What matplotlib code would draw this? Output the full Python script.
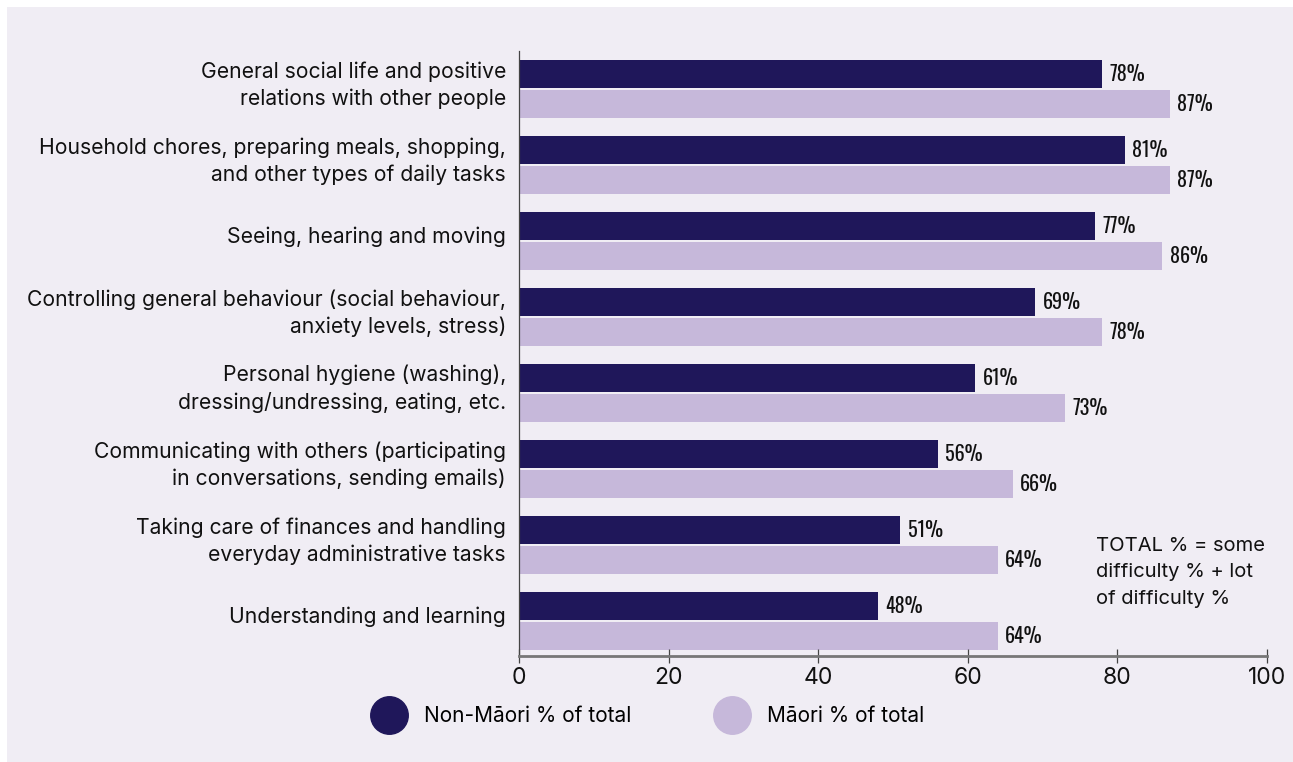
import numpy as np
import matplotlib
matplotlib.use("Agg")
import matplotlib.pyplot as plt
from matplotlib.lines import Line2D
from matplotlib.patches import Rectangle
from matplotlib.transforms import ScaledTranslation, blended_transform_factory

# Datos
categorias = [
    "General social life and positive\nrelations with other people",
    "Household chores, preparing meals, shopping,\nand other types of daily tasks",
    "Seeing, hearing and moving",
    "Controlling general behaviour (social behaviour,\nanxiety levels, stress)",
    "Personal hygiene (washing),\ndressing/undressing, eating, etc.",
    "Communicating with others (participating\nin conversations, sending emails)",
    "Taking care of finances and handling\neveryday administrative tasks",
    "Understanding and learning",
]
no_maori = [78, 81, 77, 69, 61, 56, 51, 48]
maori = [87, 87, 86, 78, 73, 66, 64, 64]
ticks_x = [0, 20, 40, 60, 80, 100]

color_oscuro = "#1f175a"
color_claro = "#c6b8da"
fondo = "#f0edf4"

plt.rcParams["font.family"] = ["Inter", "DejaVu Sans"]
fuente_valores = ["Oswald", "DejaVu Sans"]

fig = plt.figure(figsize=(12.93, 7.62), dpi=100)
fig.patch.set_facecolor("white")
# Panel de fondo lila
fig.patches.append(Rectangle((7 / 1293, 0), 1, 1 - 7 / 762,
                             transform=fig.transFigure, facecolor=fondo,
                             edgecolor="none", zorder=-10))

ax = fig.add_axes([519 / 1293, 106 / 762, 748 / 1293, 605 / 762])
ax.set_facecolor("none")

y = np.arange(len(categorias))
alto = 28 / 76
desp = 15 / 76
ax.barh(y - desp, no_maori, height=alto, color=color_oscuro)
ax.barh(y + desp, maori, height=alto, color=color_claro)

for yi, v in zip(y - desp, no_maori):
    ax.text(v + 1.0, yi, f"{v}%", va="center", ha="left", fontsize=14.5,
            fontweight="semibold", family=fuente_valores, color="#111111")
for yi, v in zip(y + desp, maori):
    ax.text(v + 1.0, yi, f"{v}%", va="center", ha="left", fontsize=14.5,
            fontweight="semibold", family=fuente_valores, color="#111111")

ax.set_xlim(0, 100)
ax.set_ylim(len(categorias) - 1 + 0.46, -0.5)
ax.set_xticks(ticks_x)
ax.set_yticks(y)
ax.set_yticklabels([])

# Etiquetas de categoría a la izquierda, un poco por encima del centro del par
trans_cat = (blended_transform_factory(ax.transAxes, ax.transData)
             + ScaledTranslation(-0.13, 0.04, fig.dpi_scale_trans))
for yi, cat in zip(y, categorias):
    ax.text(0, yi, cat, transform=trans_cat, ha="right", va="center",
            multialignment="right", fontsize=15.2, linespacing=1.42,
            color="#111111")

ax.spines["top"].set_visible(False)
ax.spines["right"].set_visible(False)
ax.spines["left"].set_color("#444444")
ax.spines["left"].set_linewidth(0.9)
ax.spines["bottom"].set_color("#777777")
ax.spines["bottom"].set_linewidth(2)

ax.tick_params(axis="y", length=0)
ax.tick_params(axis="x", direction="inout", length=10, width=0.9,
               color="#444444", labelsize=16.5, pad=3, labelcolor="#111111")

# Nota al margen
fig.text(1096 / 1293, 1 - 537 / 762,
         "TOTAL % = some\ndifficulty % + lot\nof difficulty %",
         ha="left", va="top", fontsize=14.5, linespacing=1.6, color="#111111")

# Leyenda
manijas = [
    Line2D([], [], marker="o", ls="", ms=27, color=color_oscuro),
    Line2D([], [], marker="o", ls="", ms=27, color=color_claro),
]
fig.legend(manijas, ["Non-Māori % of total", "Māori % of total"],
           loc="center left", bbox_to_anchor=(355 / 1293, 1 - 716 / 762),
           ncol=2, frameon=False, fontsize=15, handletextpad=0.9,
           columnspacing=4.1, handlelength=1.5)

fig.savefig("out.png", dpi=100, facecolor=fig.get_facecolor())
